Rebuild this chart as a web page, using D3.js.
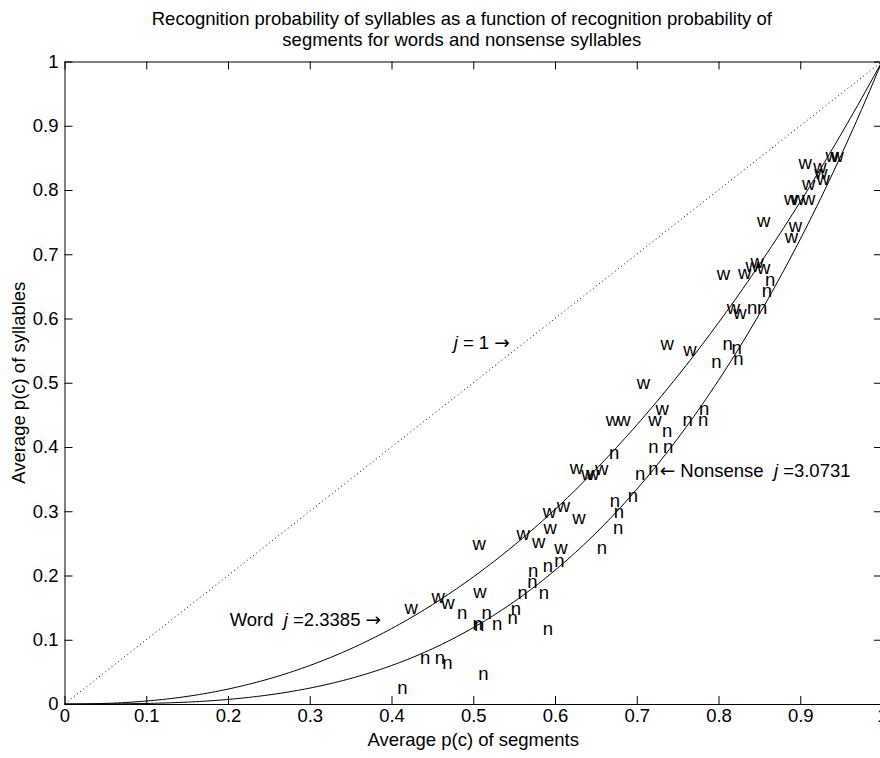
<!DOCTYPE html>
<html>
<head>
<meta charset="utf-8">
<script src="https://cdn.jsdelivr.net/npm/d3@7"></script>
<style>
  body { margin: 0; background: #fff; }
  text { font-family: "Liberation Sans", Arial, sans-serif; fill: #000; }
</style>
</head>
<body>
<div id="chart"></div>
<script>
// chart data
var titleLines = [
  "Recognition probability of syllables as a function of recognition probability of",
  "segments for words and nonsense syllables"
];
var xLabel = "Average p(c) of segments";
var yLabel = "Average p(c) of syllables";
var tickValues = [0, 0.1, 0.2, 0.3, 0.4, 0.5, 0.6, 0.7, 0.8, 0.9, 1];
var tickLabels = ["0", "0.1", "0.2", "0.3", "0.4", "0.5", "0.6", "0.7", "0.8", "0.9", "1"];

// fitted exponents j (p_syll = p_seg ^ j)
var wordJ = 2.3385;
var nonsenseJ = 3.0731;
var identityJ = 1;

// words (plotted as "w")
var wordX = [0.416, 0.449, 0.461, 0.500, 0.499, 0.553, 0.572, 0.586, 0.585, 0.602, 0.621, 0.599,
  0.618, 0.632, 0.638, 0.649, 0.662, 0.676, 0.714, 0.723, 0.700, 0.729, 0.757, 0.798,
  0.824, 0.833, 0.839, 0.847, 0.810, 0.818, 0.847, 0.886, 0.881, 0.880, 0.889, 0.902,
  0.902, 0.920, 0.898, 0.916, 0.917, 0.931, 0.937];
var wordY = [0.150, 0.167, 0.158, 0.175, 0.250, 0.266, 0.253, 0.275, 0.300, 0.309, 0.291, 0.243,
  0.368, 0.358, 0.358, 0.367, 0.442, 0.442, 0.442, 0.460, 0.501, 0.561, 0.551, 0.670,
  0.672, 0.683, 0.689, 0.680, 0.617, 0.610, 0.753, 0.745, 0.728, 0.787, 0.787, 0.787,
  0.810, 0.818, 0.843, 0.837, 0.827, 0.854, 0.854];

// nonsense syllables (plotted as "n")
var nonsenseX = [0.407, 0.435, 0.453, 0.462, 0.506, 0.480, 0.499, 0.501, 0.510, 0.523, 0.542,
  0.546, 0.554, 0.566, 0.580, 0.585, 0.567, 0.585, 0.599, 0.651, 0.671, 0.667, 0.672,
  0.689, 0.698, 0.714, 0.666, 0.714, 0.732, 0.731, 0.756, 0.775, 0.776, 0.791, 0.805,
  0.816, 0.818, 0.835, 0.847, 0.857, 0.853];
var nonsenseY = [0.025, 0.073, 0.073, 0.065, 0.048, 0.142, 0.126, 0.124, 0.142, 0.126, 0.134,
  0.149, 0.174, 0.190, 0.174, 0.117, 0.208, 0.216, 0.224, 0.243, 0.275, 0.317, 0.300,
  0.325, 0.359, 0.367, 0.392, 0.401, 0.401, 0.426, 0.443, 0.443, 0.460, 0.533, 0.561,
  0.555, 0.538, 0.617, 0.617, 0.661, 0.644];

// annotations: [x, y, left arrow?, prefix, suffix, right arrow?]
var notes = [
  [0.476, 0.563, false, "", " = 1 ", true],
  [0.202, 0.131, false, "Word  ", " =2.3385 ", true],
  [0.728, 0.364, true, " Nonsense  ", " =3.0731", false]
];

var W = 880, H = 758;
var margin = { top: 61.5, right: -2, bottom: 54, left: 64.5 };
var width = W - margin.left - margin.right,
  height = H - margin.top - margin.bottom;

var svg = d3.select("#chart")
  .append("svg")
  .attr("width", W)
  .attr("height", H)
  .style("display", "block");

var g = svg.append("g")
  .attr("transform", "translate(" + margin.left + "," + margin.top + ")");

var x = d3.scaleLinear().domain([0, 1]).range([0, width]);
var y = d3.scaleLinear().domain([0, 1]).range([height, 0]);

var fs = "18.5px";

// axes, ticks pointing inward like matlab
var fmt = function (d, i) { return tickLabels[i]; };
g.append("g")
  .attr("transform", "translate(0," + height + ")")
  .call(d3.axisBottom(x).tickValues(tickValues).tickFormat(fmt).tickSizeInner(-8).tickSizeOuter(0).tickPadding(5));
g.append("g")
  .call(d3.axisLeft(y).tickValues(tickValues).tickFormat(fmt).tickSizeInner(-8).tickSizeOuter(0).tickPadding(6));
g.append("g")
  .call(d3.axisTop(x).tickValues(tickValues).tickFormat("").tickSizeInner(-8).tickSizeOuter(0));
g.append("g")
  .attr("transform", "translate(" + width + ",0)")
  .call(d3.axisRight(y).tickValues(tickValues).tickFormat("").tickSizeInner(-8).tickSizeOuter(0));

g.selectAll(".domain, .tick line").attr("stroke", "#000").attr("stroke-width", 1);
g.selectAll(".tick text")
  .style("font-family", "\"Liberation Sans\", Arial, sans-serif")
  .style("font-size", fs)
  .attr("fill", "#000");

// model curves
var xs = d3.range(0, 1.0001, 0.005);
var line = d3.line()
  .x(function (d) { return x(d[0]); })
  .y(function (d) { return y(d[1]); });

g.append("path")
  .datum(xs.map(function (v) { return [v, Math.pow(v, identityJ)]; }))
  .attr("d", line)
  .attr("fill", "none")
  .attr("stroke", "#000")
  .attr("stroke-width", 1)
  .attr("stroke-dasharray", "1 3");

[wordJ, nonsenseJ].forEach(function (j) {
  g.append("path")
    .datum(xs.map(function (v) { return [v, Math.pow(v, j)]; }))
    .attr("d", line)
    .attr("fill", "none")
    .attr("stroke", "#000")
    .attr("stroke-width", 1);
});

// letter markers
function drawLetters(xv, yv, letter) {
  g.selectAll("text.m-" + letter)
    .data(xv)
    .enter()
    .append("text")
    .attr("class", "m-" + letter)
    .attr("x", function (d) { return x(d); })
    .attr("y", function (d, i) { return y(yv[i]); })
    .attr("dy", "0.35em")
    .style("font-size", fs)
    .text(letter);
}
drawLetters(wordX, wordY, "w");
drawLetters(nonsenseX, nonsenseY, "n");

// annotations
notes.forEach(function (n) {
  var t = g.append("text")
    .attr("x", x(n[0]))
    .attr("y", y(n[1]))
    .attr("dy", "0.35em")
    .style("white-space", "pre")
    .style("font-size", fs);
  if (n[2]) t.append("tspan").style("font-family", "\"DejaVu Sans\"").text("\u2190");
  t.append("tspan").text(n[3]);
  t.append("tspan").style("font-style", "italic").text("j");
  t.append("tspan").text(n[4]);
  if (n[5]) t.append("tspan").style("font-family", "\"DejaVu Sans\"").text("\u2192");
});

// title and labels
svg.selectAll("text.title")
  .data(titleLines)
  .enter()
  .append("text")
  .attr("class", "title")
  .attr("x", margin.left + x(0.486))
  .attr("y", function (d, i) { return 19 + i * 21; })
  .attr("dy", "0.35em")
  .attr("text-anchor", "middle")
  .style("font-size", fs)
  .text(function (d) { return d; });

svg.append("text")
  .attr("x", margin.left + x(0.5))
  .attr("y", 740)
  .attr("dy", "0.35em")
  .attr("text-anchor", "middle")
  .style("font-size", fs)
  .text(xLabel);

svg.append("text")
  .attr("transform", "translate(19," + (margin.top + y(0.5)) + ") rotate(-90)")
  .attr("dy", "0.35em")
  .attr("text-anchor", "middle")
  .style("font-size", fs)
  .text(yLabel);
</script>
</body>
</html>
